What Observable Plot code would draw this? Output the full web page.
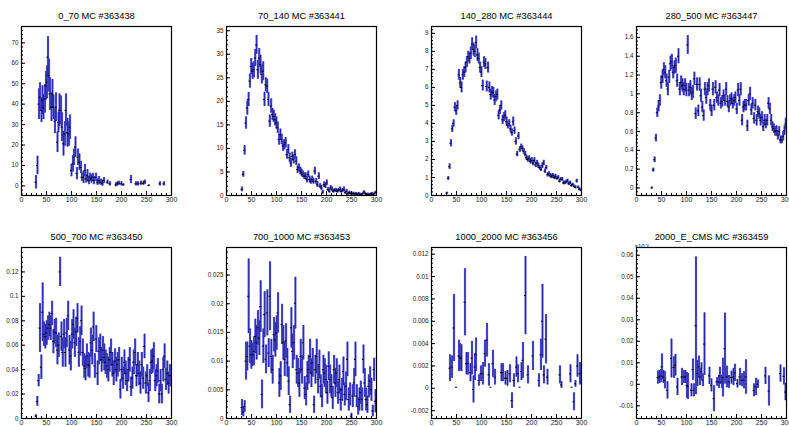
<!DOCTYPE html>
<html><head><meta charset="utf-8">
<script src="https://cdn.jsdelivr.net/npm/d3@7"></script>
<script src="https://cdn.jsdelivr.net/npm/@observablehq/plot@0.6"></script>
<style>
html,body{margin:0;padding:0;background:#fff;}
#canvas{position:relative;width:789px;height:426px;overflow:hidden;background:#fff;font-family:"Liberation Sans",Arial,Helvetica,sans-serif;}
.pad{position:absolute;width:205px;height:221px;}
</style></head><body><div id="canvas"></div>
<script>
// ---------- titles ----------
const titles = ["0_70 MC #363438", "70_140 MC #363441", "140_280 MC #363444", "280_500 MC #363447",
  "500_700 MC #363450", "700_1000 MC #363453", "1000_2000 MC #363456", "2000_E_CMS MC #363459"];

// ---------- axis ranges and tick labels ----------
const xDomain = [0, 300];
const xTicks = [0, 50, 100, 150, 200, 250, 300];
const yDomains = [[-4.7, 78], [0, 35.9], [0, 9.38], [-0.08, 1.716], [0, 0.14], [0, 0.0298], [-0.0027, 0.0126], [-0.0159, 0.0636]];
const yTicks1 = [0, 10, 20, 30, 40, 50, 60, 70];
const yTicks2 = [0, 5, 10, 15, 20, 25, 30, 35];
const yTicks3 = [0, 1, 2, 3, 4, 5, 6, 7, 8, 9];
const yTicks4 = [0, 0.2, 0.4, 0.6, 0.8, 1, 1.2, 1.4, 1.6];
const yTicks5 = [0, 0.02, 0.04, 0.06, 0.08, 0.1, 0.12];
const yTicks6 = [0, 0.005, 0.01, 0.015, 0.02, 0.025];
const yTicks7 = [-0.002, 0, 0.002, 0.004, 0.006, 0.008, 0.01, 0.012];
const yTicks8 = [-0.01, 0, 0.01, 0.02, 0.03, 0.04, 0.05, 0.06];
const yMinorSteps = [2, 1, 0.2, 0.04, 0.004, 0.001, 0.0004, 0.002];
const exponentLabel = "×10⁻³";

// ---------- panel 1 (sparse, explicit bin centres) ----------
const x1 = [29,32,35,37,40,42,44,47,49,51,53,55,57,60,62,64,67,69,72,74,76,79,81,84,87,89,92,95,97,100,
  103,105,108,111,113,116,119,121,124,127,129,132,135,137,140,143,145,149,152,155,159,162,165,172,177,
  189,192,195,200,204,219,229,233,239,244,247,255,277,285];
const y1 = [1.8,10,40,43.4,37,42,38.5,42.6,49,50.7,63,54,45,38.5,45,38.5,31.6,38.5,21.4,31,37,37,28.7,20.6,25.4,
  37,26,25.4,28.7,7.5,10.8,14,19,6,14,11.6,9,4.2,4.2,7.5,3.4,5,2.6,4.2,3.4,4.2,2.6,4.2,1.8,2.6,1.8,1.3,2.6,1.8,1,
  0.5,1,1.3,1,0.5,3.1,1,1,1.3,1.3,1.8,0.2,1,1];
const e1 = [3.3,4.5,7.5,7,6,7,6,7,7,8,10,8,8,7,7,6,6,7,5,5,8,7,7,6,6,8,7,6,6,3,4,4,5,3,4,4,3,2,3,3,
  2,3,2,2,2,2,2,2,1.5,2,1.5,1.5,1.5,1,1,1,1,1,1,0.5,2,1,1,1,1,1,0.3,1,1];

// ---------- panel 2 ----------
const y2 = [1.3,4.5,9.6,15.4,18.6,20.4,24.3,27.4,26.4,26.7,
  29.2,32,26.7,29.2,27.8,25.7,26.4,20.4,23.5,23.2,
  20.4,15.8,19,17.2,16.8,16.1,15.4,14.4,11.9,12.9,
  11.9,10.5,10.8,11.2,8.7,9.8,8,6.9,8.3,7.6,
  8.7,7.3,5.5,5.9,5.2,4.8,4.5,4.1,4.1,3.4,
  4.5,3.4,3,3.4,3,5.2,3,2.3,4.1,2,
  1.6,0.7,2.3,2,2.7,1.3,0.9,1.6,1.3,0.9,
  1.1,1.1,0.9,1.1,1.3,0.9,1.1,1.3,0.6,0.9,
  0.35,0.6,0.4,0.35,0.4,0.3,0.35,0.2,0.35,0.3,
  0.2,0.3,0.7,0.4,0.2,0.3,0.15,0.3,0.35,0.2,
  0.4,0.6];
const e2 = [0.5,0.6,1,1.3,1.5,1.5,1.5,1.7,1.7,1.7,
  1.8,2,2,2,2,2,2,1.5,1.5,1.5,
  1.5,1.3,1.5,1.3,1.3,1.3,1.3,1.2,1.2,1.2,
  1.1,1.1,1.1,1.1,1,1,1,0.9,0.9,0.9,
  1,0.9,0.8,0.8,0.8,0.8,0.7,0.7,0.7,0.7,
  0.7,0.7,0.6,0.7,0.6,0.8,0.6,0.6,0.7,0.5,
  0.5,0.4,0.6,0.5,0.6,0.4,0.4,0.5,0.5,0.4,
  0.4,0.4,0.4,0.4,0.5,0.4,0.4,0.5,0.3,0.4,
  0.3,0.3,0.3,0.3,0.3,0.2,0.3,0.2,0.3,0.2,
  0.2,0.2,0.3,0.3,0.2,0.2,0.15,0.2,0.3,0.2,
  0.3,0.3];

// ---------- panel 3 ----------
const y3 = [0.13,0.95,1.6,2.9,3.7,4.0,4.9,4.7,5.0,6.7,
  6.25,6.0,6.7,6.85,7.1,7.4,7.7,7.6,7.9,8.4,
  8.1,8.0,8.5,7.8,7.6,7.1,6.85,6.1,7.4,7.3,
  6.05,7.1,6.0,5.6,5.75,5.7,5.3,5.5,5.6,4.45,
  4.75,5.0,4.2,4.35,4.45,4.1,3.9,4.0,3.7,3.5,
  4.1,3.6,3.0,2.3,3.3,2.55,2.7,2.6,2.45,2.3,
  2.1,2.0,2.05,1.9,1.95,1.8,1.95,1.7,1.8,1.65,
  1.55,1.45,1.65,1.8,1.35,1.55,1.15,1.2,1.1,1.05,
  1.1,1.0,1.05,0.95,1.0,0.8,0.9,0.9,0.7,0.7,
  0.75,0.8,0.65,0.7,0.55,0.6,0.5,0.45,0.8,0.45,
  0.35,0.3];
const e3 = [0.05,0.1,0.15,0.2,0.2,0.2,0.25,0.25,0.25,0.3,
  0.3,0.3,0.3,0.3,0.3,0.3,0.3,0.3,0.35,0.35,
  0.35,0.35,0.35,0.35,0.3,0.3,0.3,0.3,0.3,0.3,
  0.3,0.3,0.3,0.3,0.3,0.3,0.3,0.3,0.3,0.25,
  0.25,0.25,0.25,0.25,0.25,0.25,0.2,0.2,0.2,0.2,
  0.25,0.2,0.2,0.15,0.2,0.15,0.15,0.15,0.15,0.15,
  0.15,0.15,0.15,0.15,0.15,0.15,0.15,0.15,0.15,0.15,
  0.12,0.12,0.15,0.15,0.12,0.12,0.12,0.12,0.12,0.12,
  0.12,0.12,0.12,0.1,0.1,0.1,0.1,0.1,0.1,0.1,
  0.1,0.1,0.1,0.1,0.08,0.08,0.08,0.08,0.1,0.08,
  0.07,0.07];

// ---------- panel 4 ----------
const y4 = [0,0.19,0.3,0.53,0.8,0.87,0.93,1.12,1.18,1.26,
  1.23,1.14,1.05,1.18,1.32,1.34,1.23,1.28,1.3,1.14,
  1.4,1.05,1.12,1.09,1.05,1.09,1.04,1.52,1.04,1.07,
  1.0,1.02,1.16,0.79,1.1,0.82,1.1,0.98,0.86,0.77,
  1.05,0.96,1.05,1.09,0.88,0.82,1.05,0.88,1.07,0.96,
  0.93,1.04,0.9,0.92,0.98,0.93,1.05,0.92,0.86,0.93,
  0.95,0.9,0.93,0.96,0.84,1.04,0.93,1.05,0.72,0.86,
  0.88,0.88,0.66,0.93,1.0,0.83,0.9,0.74,0.88,0.72,
  0.81,0.79,0.72,0.75,0.65,0.72,0.68,0.72,0.9,0.84,
  0.72,0.65,0.63,0.6,0.61,0.56,0.6,0.51,0.51,0.55,
  0.61,0.68];
const e4 = [0.01,0.02,0.03,0.04,0.05,0.06,0.06,0.07,0.07,0.07,
  0.07,0.07,0.07,0.07,0.08,0.08,0.07,0.07,0.08,0.07,
  0.08,0.07,0.07,0.07,0.07,0.07,0.07,0.1,0.07,0.07,
  0.07,0.07,0.07,0.06,0.07,0.06,0.07,0.07,0.06,0.06,
  0.07,0.07,0.07,0.07,0.06,0.06,0.07,0.06,0.07,0.06,
  0.06,0.07,0.06,0.06,0.06,0.06,0.07,0.06,0.06,0.06,
  0.06,0.06,0.06,0.06,0.06,0.07,0.06,0.07,0.06,0.06,
  0.06,0.06,0.06,0.06,0.07,0.06,0.06,0.06,0.06,0.06,
  0.06,0.06,0.06,0.06,0.05,0.06,0.05,0.06,0.06,0.06,
  0.06,0.05,0.05,0.05,0.05,0.05,0.05,0.04,0.04,0.05,
  0.05,0.06];

// ---------- panel 5 ----------
const y5 = [0.002,0.014,0.031,0.074,0.042,0.087,0.069,0.067,0.07,0.074,
  0.077,0.074,0.086,0.063,0.071,0.07,0.056,0.06,0.12,0.067,
  0.054,0.069,0.054,0.07,0.084,0.056,0.051,0.069,0.077,0.062,
  0.071,0.082,0.054,0.063,0.08,0.054,0.043,0.041,0.051,0.044,
  0.043,0.062,0.056,0.075,0.043,0.065,0.037,0.055,0.058,0.048,
  0.056,0.05,0.046,0.043,0.04,0.048,0.054,0.044,0.037,0.047,
  0.04,0.044,0.048,0.024,0.04,0.033,0.046,0.037,0.031,0.04,
  0.048,0.026,0.033,0.046,0.054,0.035,0.044,0.037,0.029,0.044,
  0.033,0.059,0.029,0.035,0.021,0.031,0.046,0.047,0.051,0.031,
  0.035,0.039,0.02,0.031,0.02,0.04,0.051,0.032,0.037,0.029,
  0.035];
const e5 = [0.001,0.004,0.005,0.02,0.01,0.024,0.01,0.01,0.01,0.01,
  0.01,0.01,0.01,0.01,0.01,0.012,0.012,0.01,0.012,0.012,
  0.012,0.012,0.012,0.012,0.012,0.012,0.012,0.012,0.012,0.012,
  0.012,0.012,0.012,0.012,0.012,0.011,0.01,0.01,0.01,0.01,
  0.01,0.012,0.012,0.012,0.01,0.011,0.01,0.011,0.011,0.01,
  0.011,0.011,0.01,0.01,0.01,0.01,0.011,0.01,0.01,0.01,
  0.01,0.01,0.01,0.008,0.01,0.009,0.01,0.01,0.009,0.01,
  0.01,0.008,0.009,0.01,0.011,0.009,0.01,0.01,0.009,0.01,
  0.009,0.01,0.009,0.009,0.008,0.009,0.01,0.01,0.011,0.009,
  0.009,0.01,0.008,0.009,0.008,0.01,0.01,0.009,0.01,0.009,
  0.009];

// ---------- panel 6 ----------
const y6 = [0.0019,0.0011,0.0021,0.01,0.0108,0.0213,0.0126,0.0111,0.0111,0.0117,
  0.0143,0.0132,0.0158,0.014,0.0195,0.0042,0.0126,0.0181,0.0103,0.0184,
  0.0114,0.0213,0.0108,0.0085,0.0146,0.0137,0.0149,0.0184,0.0062,0.0074,
  0.0164,0.0132,0.0103,0.0135,0.0097,0.0065,0.0024,0.0158,0.0117,0.0132,
  0.0201,0.0085,0.0079,0.0062,0.0108,0.0085,0.0132,0.0053,0.0042,0.0074,
  0.0085,0.0108,0.0079,0.0097,0.0024,0.0085,0.0108,0.0068,0.0094,0.0056,
  0.0039,0.0085,0.0079,0.0068,0.0045,0.0091,0.0068,0.0056,0.0036,0.0085,
  0.0062,0.0079,0.0045,0.0068,0.0033,0.005,0.0082,0.0042,0.0056,0.0103,
  0.0033,0.0042,0.0004,0.0039,0.0062,0.0103,0.0039,0.0021,0.0033,0.0045,
  0.0033,0.0103,0.0062,0.0033,0.0024,0.0056,0.0065,0.005,0.0013,0.0085,
  0.003];
const e6 = [0.0014,0.0008,0.001,0.0033,0.0025,0.0065,0.003,0.0025,0.002,0.0025,
  0.003,0.003,0.003,0.003,0.0045,0.0025,0.003,0.004,0.0025,0.004,
  0.0025,0.006,0.003,0.0025,0.003,0.003,0.003,0.0035,0.0025,0.0025,
  0.0035,0.003,0.003,0.003,0.0025,0.0025,0.0015,0.0035,0.003,0.003,
  0.0045,0.0025,0.0025,0.0025,0.003,0.0025,0.003,0.002,0.002,0.0025,
  0.0025,0.003,0.0025,0.0025,0.0015,0.0025,0.003,0.0025,0.0025,0.002,
  0.002,0.0025,0.0025,0.0025,0.002,0.0025,0.0025,0.002,0.002,0.0025,
  0.0025,0.0025,0.002,0.0025,0.002,0.002,0.0025,0.002,0.0025,0.003,
  0.002,0.002,0.0005,0.002,0.0025,0.003,0.002,0.0015,0.002,0.002,
  0.002,0.0025,0.0025,0.002,0.0015,0.002,0.0025,0.002,0.001,0.002,
  0.002];

// ---------- panel 7 (sparse) ----------
const x7 = [37,41,45,50,55,57,60,67,70,73,78,81,84,87,89,95,99,103,107,111,115,119,123,127,140,143,148,152,157,161,
  165,170,173,177,180,183,188,193,203,215,219,222,225,229,232,257,260,278,281,285,288,292,297];
const y7 = [0.0018,0.0019,0.0054,0.0001,0.0029,0.0028,0.0027,0.0077,0.0022,0.0022,0.0014,0.0027,-0.0001,0.0019,0.003,
  0.0007,0.0013,0.0013,0.0031,0.0043,0.0012,0.0001,0.0022,0.001,0.0014,0.0014,0.0009,0.0009,0.0013,-0.0011,
  0.0007,0.0019,0.0013,0.0001,0.0015,0.0025,0.0083,0.0012,0.0029,0.0007,0.003,0.006,0.0012,0.0044,0.001,
  0.0012,0.0003,0.0013,0.0001,-0.0012,0.0004,0.002,0.0013];
const e7 = [0.0012,0.001,0.003,0,0.0014,0.0012,0.0012,0.003,0.001,0.001,0.0008,0.0015,0.0012,0.0012,0.0015,
  0.0005,0.0007,0.001,0.0012,0.0015,0.001,0,0.0012,0.0007,0.0008,0.0008,0.0006,0.0007,0.0008,0.0007,
  0.0006,0.0009,0.0008,0,0.0008,0.0016,0.0035,0.0008,0.0013,0.0006,0.0014,0.0033,0.0008,0.0022,0.0007,
  0.0008,0.0003,0.0008,0,0.0008,0.0003,0.001,0.001];

// ---------- panel 8 (sparse, values in units of 10^-3) ----------
const x8 = [43,46,49,51,54,57,62,70,75,78,82,91,95,98,101,103,110,113,115,119,122,125,127,130,133,136,146,150,155,161,
  165,167,171,173,177,181,185,190,194,197,202,207,211,215,219,235,239,243,258,265,288,295,298];
const y8 = [0.0031,0.0034,0.0039,0.0081,0.0034,0.0019,-0.0028,0.012,0.0078,0.0089,-0.0012,0.0034,0.0034,0.0034,-0.0005,
  -0.001,-0.0028,0.0068,-0.0028,0.0272,0.005,0.0081,0.0034,0.0059,0.0019,0.0187,0.0039,-0.0005,-0.0067,0.0011,
  0.0011,0.0039,0.0011,0.0031,0.0166,0.0034,0.0011,0.0031,0.0034,0.0053,0.0003,0.0034,0.0019,0.0019,0.0034,
  -0.0028,-0.0012,0,0.0039,-0.0031,0.005,0.0037,-0.0036];
const e8 = [0.003,0.003,0.003,0.006,0.003,0.004,0.004,0.009,0.005,0.005,0.004,0.004,0.003,0.003,0.006,
  0.006,0.003,0.005,0.003,0.032,0.006,0.005,0.004,0.004,0.003,0.0145,0.004,0.003,0.006,0.002,
  0.003,0.004,0.003,0.009,0.0165,0.005,0.003,0.003,0.004,0.004,0.002,0.004,0.003,0.004,0.008,
  0.003,0.004,0.002,0.004,0.007,0.004,0.004,0.004];

// ---------- build ----------
const binGrid = (n, start, step) => d3.range(n).map(i => start + i * step);
const rows = (xs, ys, es) => ys.map((y, i) => ({x: xs[i], y, e: es[i]}));

const panelData = [
  rows(x1, y1, e1),
  rows(binGrid(y2.length, 31, 2.65), y2, e2),
  rows(binGrid(y3.length, 31, 2.65), y3, e3),
  rows(binGrid(y4.length, 31, 2.65), y4, e4),
  rows(binGrid(y5.length, 29, 2.68), y5, e5),
  rows(binGrid(y6.length, 31, 2.67), y6, e6),
  rows(x7, y7, e7),
  rows(x8, y8, e8)
];
const yTickSets = [yTicks1, yTicks2, yTicks3, yTicks4, yTicks5, yTicks6, yTicks7, yTicks8];

const fmt = v => String(+(+v).toPrecision(6));
const xMinor = d3.range(0, 301, 10);

const canvas = document.getElementById("canvas");
const PW = 205, PH = 221;

panelData.forEach((data, k) => {
  const col = k % 4, row = Math.floor(k / 4);
  const [lo, hi] = yDomains[k];
  const st = yMinorSteps[k];
  const yMinor = d3.range(Math.ceil(lo / st - 1e-9), Math.floor(hi / st + 1e-9) + 1).map(i => +(i * st).toPrecision(8));
  const marks = [
    Plot.ruleX(data, {x: "x", y1: d => d.y - d.e, y2: d => d.y + d.e, stroke: "#5c5cd2", strokeWidth: 2.2, clip: true}),
    Plot.ruleX(data, {x: "x", y1: d => d.y - d.e, y2: d => d.y + d.e, stroke: "#1a1aa6", strokeWidth: 0.8, clip: true}),
    Plot.ruleY(data, {y: "y", x1: d => d.x - 2, x2: d => d.x + 2, stroke: "#000", strokeWidth: 1, clip: true}),
    Plot.axisX(xTicks, {label: null, tickSize: 4, dy: -4, tickPadding: 2, tickFormat: fmt, fontSize: 7, fill: "#222", stroke: "#000"}),
    Plot.axisX(xMinor, {label: null, tickSize: 2, dy: -2, tickFormat: () => "", stroke: "#000"}),
    Plot.axisY(yTickSets[k], {label: null, tickSize: 4, dx: 4, tickPadding: 3, tickFormat: fmt, fontSize: 6.3, fill: "#222", stroke: "#000"}),
    Plot.axisY(yMinor, {label: null, tickSize: 2, dx: 2, tickFormat: () => "", stroke: "#000"}),
    Plot.frame({stroke: "#000", strokeWidth: 1.2}),
    Plot.text([titles[k]], {text: d => d, frameAnchor: "top", dy: -14, fontSize: 9.3, fill: "#000"})
  ];
  if (k === 7) {
    marks.push(Plot.text([exponentLabel], {text: d => d, frameAnchor: "top-left", dx: -2, dy: -4, textAnchor: "start", fontSize: 6, fill: "#222"}));
  }
  const chart = Plot.plot({
    width: PW, height: PH,
    marginLeft: 21, marginRight: 34, marginTop: 26, marginBottom: row === 0 ? 26 : 24,
    x: {domain: xDomain, label: null},
    y: {domain: yDomains[k], label: null},
    style: {fontFamily: "'Liberation Sans', Arial, Helvetica, sans-serif", background: "transparent", overflow: "visible"},
    marks
  });
  const pad = document.createElement("div");
  pad.className = "pad";
  pad.style.left = (col * PW) + "px";
  pad.style.top = (row * PH) + "px";
  pad.appendChild(chart);
  canvas.appendChild(pad);
});
</script></body></html>
